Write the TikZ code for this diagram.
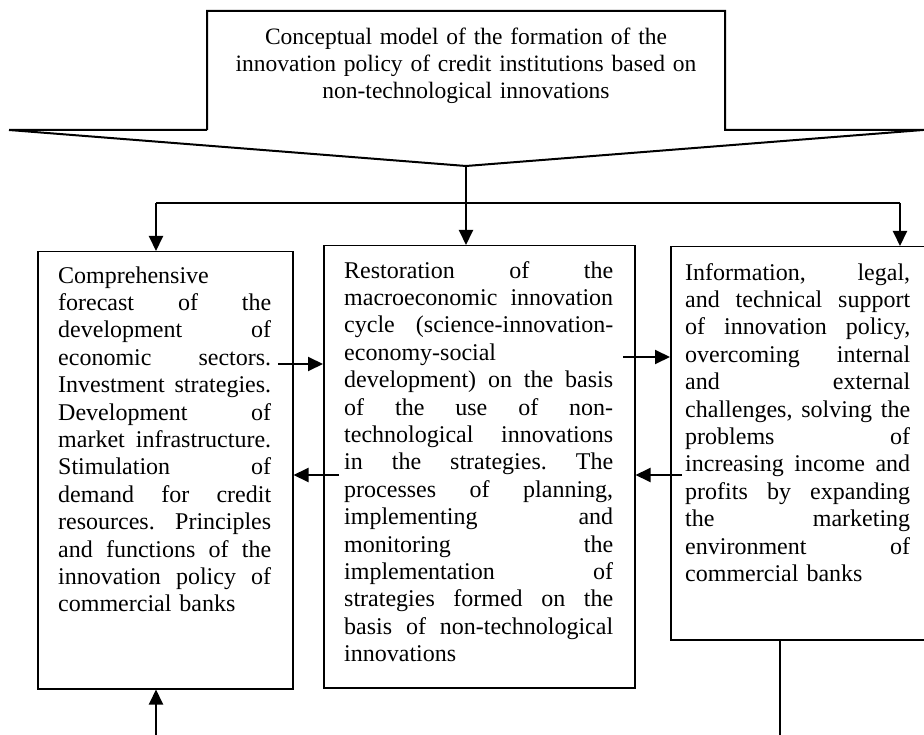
\documentclass[tikz,border=0pt]{standalone}
\usepackage{fontspec}
\setmainfont{Liberation Serif}
\usetikzlibrary{arrows.meta,calc}
\newcommand\J[2]{\leavevmode\hbox to #1{#2}}
\newcommand\s{\hfill}
\begin{document}
\begin{tikzpicture}[x=1pt,y=-1pt,
  boxst/.style={draw,line width=1.5pt,inner sep=0pt,anchor=north west},
  txt/.style={inner sep=0pt,anchor=north west,align=left,font=\fontsize{24}{27.4}\selectfont},
  conn/.style={line width=2pt},
  arr/.style={line width=2pt,-{Triangle[length=15pt,width=14pt]}}]
\fill[white] (0,0) rectangle (924,735);
\useasboundingbox (0,0) rectangle (924,735);
% title shape
\draw[line width=2pt,line join=miter] (207,130) -- (207,11) -- (725,11) -- (725,130) -- (924,130)
      (9,130) -- (207,130)
      (9,130) -- (466,166) -- (923,130);
\coordinate (tip) at (466,166);
\node[inner sep=0pt,anchor=north,text width=520pt,align=center,font=\fontsize{23.5}{27.4}\selectfont] (title) at (466,24.8)
  {\strut Conceptual model of the formation of the\\innovation policy of credit institutions based on\\non-technological innovations};
% boxes
\node[boxst,minimum width=255pt,minimum height=437pt] (lbox) at (37,251) {};
\node[boxst,minimum width=311pt,minimum height=442pt] (mbox) at (323,245) {};
\node[boxst,minimum width=257pt,minimum height=393pt] (rbox) at (670,246) {};
% texts
\node[txt,text width=213pt] (ltxt) at (58,263.8) {\strut Comprehensive\\
\J{213pt}{forecast\s of\s the}\\
\J{213pt}{development\s of}\\
\J{213pt}{economic\s sectors.}\\
\J{213pt}{Investment\s strategies.}\\
\J{213pt}{Development\s of}\\
\J{213pt}{market\s infrastructure.}\\
\J{213pt}{Stimulation\s of}\\
\J{213pt}{demand\s for\s credit}\\
\J{213pt}{resources.\s Principles}\\
\J{213pt}{and\s functions\s of\s the}\\
\J{213pt}{innovation\s policy\s of}\\
commercial banks};
\node[txt,text width=269pt] (mtxt) at (344,258.8) {\strut\J{269pt}{Restoration\s of\s the}\\
\J{269pt}{macroeconomic\s innovation}\\
\J{269pt}{cycle\s (science-innovation-}\\
economy-social\\
\J{269pt}{development)\s on\s the\s basis}\\
\J{269pt}{of\s the\s use\s of\s non-}\\
\J{269pt}{technological\s innovations}\\
\J{269pt}{in\s the\s strategies.\s The}\\
\J{269pt}{processes\s of\s planning,}\\
\J{269pt}{implementing\s and}\\
\J{269pt}{monitoring\s the}\\
\J{269pt}{implementation\s of}\\
\J{269pt}{strategies\s formed\s on\s the}\\
\J{269pt}{basis\s of\s non-technological}\\
innovations};
\node[txt,text width=225pt] (rtxt) at (685,260.8) {\strut\J{225pt}{Information,\s legal,}\\
\J{225pt}{and\s technical\s support}\\
\J{225pt}{of\s innovation\s policy,}\\
\J{225pt}{overcoming\s internal}\\
\J{225pt}{and\s external}\\
\J{225pt}{challenges,\s solving\s the}\\
\J{225pt}{problems\s of}\\
\J{225pt}{increasing\s income\s and}\\
\J{225pt}{profits\s by\s expanding}\\
\J{225pt}{the\s marketing}\\
\J{225pt}{environment\s of}\\
commercial banks};
% connectors
\coordinate (hub) at (466,203);
\coordinate (xl) at (156,203);
\coordinate (xr) at (900,203);
\draw[arr] (tip) -- (tip |- mbox.north);
\draw[conn] (xl) -- (xr);
\draw[arr] (xl) -- (lbox.north -| xl);
\draw[arr] (xr) -- (rbox.north -| xr);
\coordinate (s1) at (278,364);
\coordinate (s2) at (339,475);
\coordinate (s3) at (623,357);
\coordinate (s4) at (682,475);
\draw[arr] (s1) -- (s1 -| mbox.west);
\draw[arr] (s2) -- (s2 -| lbox.east);
\draw[arr] (s3) -- (s3 -| rbox.west);
\draw[arr] (s4) -- (s4 -| mbox.east);
\coordinate (b1) at (156,737);
\coordinate (b2) at (780,737);
\draw[arr] (b1) -- (b1 |- lbox.south);
\draw[conn] (rbox.south -| b2) -- (b2);
\end{tikzpicture}
\end{document}
